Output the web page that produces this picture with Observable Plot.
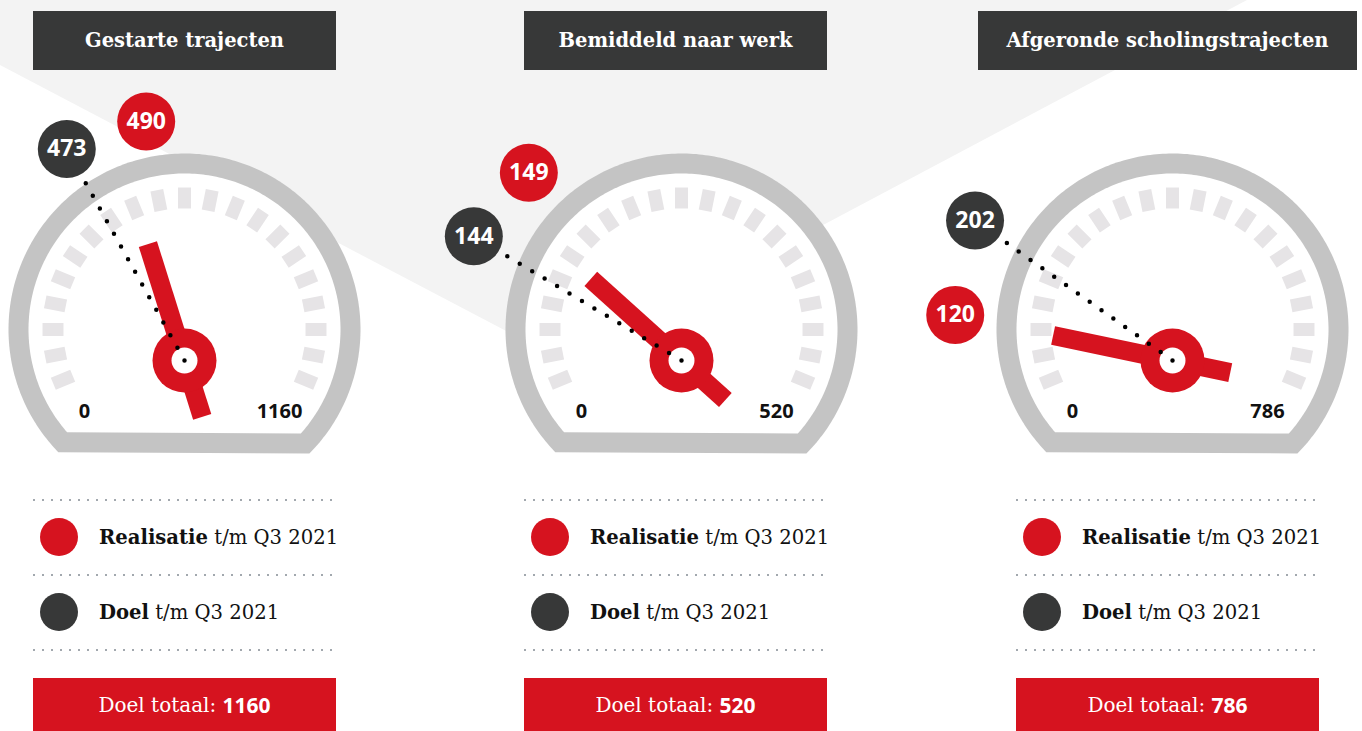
<!DOCTYPE html>
<html>
<head>
<meta charset="utf-8">
<script src="https://cdn.jsdelivr.net/npm/d3@7"></script>
<script src="https://cdn.jsdelivr.net/npm/@observablehq/plot@0.6"></script>
<style>
  html, body { margin: 0; padding: 0; background: #fff; }
  #wrap { position: relative; width: 1362px; height: 731px; overflow: hidden; background: #fff; }
  #bg { position: absolute; left: 0; top: 0; width: 1362px; height: 731px; background: #f3f3f3;
        clip-path: polygon(0 0, 1247px 0, 565px 362px, 0 65px); }
  #chart { position: absolute; left: 0; top: 0; }
  .hdr { position: absolute; top: 11px; height: 59px; background: #373838; color: #fff;
         display: flex; align-items: center; justify-content: center;
         font-family: "DejaVu Serif", serif; font-weight: bold; font-size: 19.5px; }
  .sep { position: absolute; height: 2px;
         background: repeating-linear-gradient(to right, #a2a8ae 0 2px, transparent 2px 9px); }
  .leg { position: absolute; height: 40px; display: flex; align-items: center;
         font-family: "DejaVu Serif", serif; font-size: 19.6px; color: #111; white-space: nowrap; }
  .leg .sw { width: 38px; height: 38px; border-radius: 50%; margin-right: 21px; margin-left: 7px; }
  .tot { position: absolute; top: 678px; height: 53px; background: #d6131f; color: #fff;
         display: flex; align-items: center; justify-content: center;
         font-family: "DejaVu Serif", serif; font-size: 20px; white-space: pre; }
  .tot b { font-family: "Open Sans", sans-serif; font-size: 21px; font-weight: 700; }
</style>
</head>
<body>
<div id="wrap">
  <div id="bg"></div>
  <div id="chart"></div>
</div>
<script>
// ---- data ----
const titles = ["Gestarte trajecten", "Bemiddeld naar werk", "Afgeronde scholingstrajecten"];
const realisatie = [490, 149, 120];
const doel = [473, 144, 202];
const doelTotaal = [1160, 520, 786];
const legendNames = ["Realisatie", "Doel"];
const period = "t/m Q3 2021";
const totalLabel = "Doel totaal:";

// ---- layout / style ----
const RED = "#d6131f", DARK = "#373838";
const centers = [184, 681, 1172];
const arcCY = 329, hubCY = 360;
const headerBoxes = [[33, 303], [524, 303], [978, 379]];
const legendX = [33, 524, 1016];
const legendW = 303;

const wrap = document.getElementById("wrap");

function polar(cx, cy, r, deg) {
  const a = deg * Math.PI / 180;
  return [cx + r * Math.cos(a), cy - r * Math.sin(a)];
}

// gauge body polygons
function bodyPoly(cx, R, bottomY, g) {
  const below = Math.asin((bottomY - arcCY) / R) * 180 / Math.PI;
  return d3.range(-below, 180 + below + 0.001, 1).map(a => {
    const [x, y] = polar(cx, arcCY, R, a);
    return {x, y, g};
  });
}
const outer = [], inner = [], ticks = [], needles = [], dotted = [], hubs = [],
      labR = [], labD = [], scaleLabels = [];

titles.forEach((t, i) => {
  const cx = centers[i];
  outer.push(...bodyPoly(cx, 176, 453, "o" + i));
  inner.push(...bodyPoly(cx, 156, 433, "i" + i));
  d3.range(21).forEach(k => {
    const a = -22.5 + k * 11.25;
    const [x1, y1] = polar(cx, arcCY, 121, a);
    const [x2, y2] = polar(cx, arcCY, 142, a);
    ticks.push({x1, y1, x2, y2});
  });
  const angle = d3.scaleLinear().domain([0, doelTotaal[i]]).range([202.5, -22.5]);
  const aR = angle(realisatie[i]), aD = angle(doel[i]);
  // label angles: keep labels at least 20deg apart
  let lR = aR, lD = aD;
  if (Math.abs(aR - aD) < 20) {
    const mid = (aR + aD) / 2;
    if (realisatie[i] >= doel[i]) { lR = mid - 10; lD = mid + 10; }
    else { lR = mid + 10; lD = mid - 10; }
  }
  const [tx, ty] = polar(cx, hubCY, 122, aR);
  const [bx, by] = polar(cx, hubCY, -59, aR);
  needles.push({x1: bx, y1: by, x2: tx, y2: ty});
  hubs.push({x: cx, y: hubCY});
  const [dx, dy] = polar(cx, hubCY, 208, lD);
  dotted.push({x1: cx, y1: hubCY, x2: dx, y2: dy});
  // labels sitting low on the left side are pulled in a little
  const rDist = (a) => a > 160 ? 222 : 242;
  const [rx, ry] = polar(cx, hubCY, rDist(lR), lR);
  labR.push({x: rx, y: ry, text: String(realisatie[i])});
  const [qx, qy] = polar(cx, hubCY, rDist(lD), lD);
  labD.push({x: qx, y: qy, text: String(doel[i])});
  scaleLabels.push({x: cx - 100, y: 411, text: "0"});
  scaleLabels.push({x: cx + 95, y: 411, text: String(doelTotaal[i])});
});

const plot = Plot.plot({
  width: 1362,
  height: 470,
  margin: 0,
  x: {type: "identity", axis: null},
  y: {type: "identity", axis: null},
  style: {background: "transparent", overflow: "visible"},
  marks: [
    Plot.line(outer, {x: "x", y: "y", z: "g", fill: "#c4c4c4", stroke: "none", curve: "linear-closed"}),
    Plot.line(inner, {x: "x", y: "y", z: "g", fill: "#ffffff", stroke: "none", curve: "linear-closed"}),
    Plot.link(ticks, {x1: "x1", y1: "y1", x2: "x2", y2: "y2", stroke: "#e6e4e6", strokeWidth: 13}),
    Plot.link(needles, {x1: "x1", y1: "y1", x2: "x2", y2: "y2", stroke: RED, strokeWidth: 19}),
    Plot.dot(hubs, {x: "x", y: "y", r: 32, fill: RED, stroke: "none"}),
    Plot.dot(hubs, {x: "x", y: "y", r: 13, fill: "#fff", stroke: "none"}),
    Plot.link(dotted, {x1: "x1", y1: "y1", x2: "x2", y2: "y2", stroke: "#000", strokeWidth: 4.5,
      strokeDasharray: "0 14.5", strokeLinecap: "round"}),
    Plot.dot(labD, {x: "x", y: "y", r: 29, fill: DARK, stroke: "none"}),
    Plot.dot(labR, {x: "x", y: "y", r: 29, fill: RED, stroke: "none"}),
    Plot.text(labD.concat(labR), {x: "x", y: "y", text: "text", fill: "#fff", fontSize: 23,
      fontWeight: "bold", fontFamily: "Open Sans"}),
    Plot.text(scaleLabels, {x: "x", y: "y", text: "text", fill: "#111", fontSize: 20,
      fontWeight: "bold", fontFamily: "Open Sans"})
  ]
});
document.getElementById("chart").appendChild(plot);

// headers
titles.forEach((t, i) => {
  const d = document.createElement("div");
  d.className = "hdr";
  d.style.left = headerBoxes[i][0] + "px";
  d.style.width = headerBoxes[i][1] + "px";
  d.textContent = t;
  wrap.appendChild(d);
});

// legends
legendX.forEach((x0, i) => {
  [500, 575, 650].forEach(y => {
    const s = document.createElement("div");
    s.className = "sep";
    s.style.left = x0 + "px"; s.style.top = (y - 1) + "px"; s.style.width = legendW + "px";
    wrap.appendChild(s);
  });
  legendNames.forEach((name, k) => {
    const row = document.createElement("div");
    row.className = "leg";
    row.style.left = x0 + "px";
    row.style.top = (517 + k * 75) + "px";
    const sw = document.createElement("div");
    sw.className = "sw";
    sw.style.background = k === 0 ? RED : DARK;
    const txt = document.createElement("span");
    const b = document.createElement("b");
    b.textContent = name;
    txt.appendChild(b);
    txt.appendChild(document.createTextNode(" " + period));
    row.appendChild(sw); row.appendChild(txt);
    wrap.appendChild(row);
  });
  const tot = document.createElement("div");
  tot.className = "tot";
  tot.style.left = x0 + "px"; tot.style.width = legendW + "px";
  tot.appendChild(document.createTextNode(totalLabel + " "));
  const b = document.createElement("b");
  b.textContent = String(doelTotaal[i]);
  tot.appendChild(b);
  wrap.appendChild(tot);
});
</script>
</body>
</html>
